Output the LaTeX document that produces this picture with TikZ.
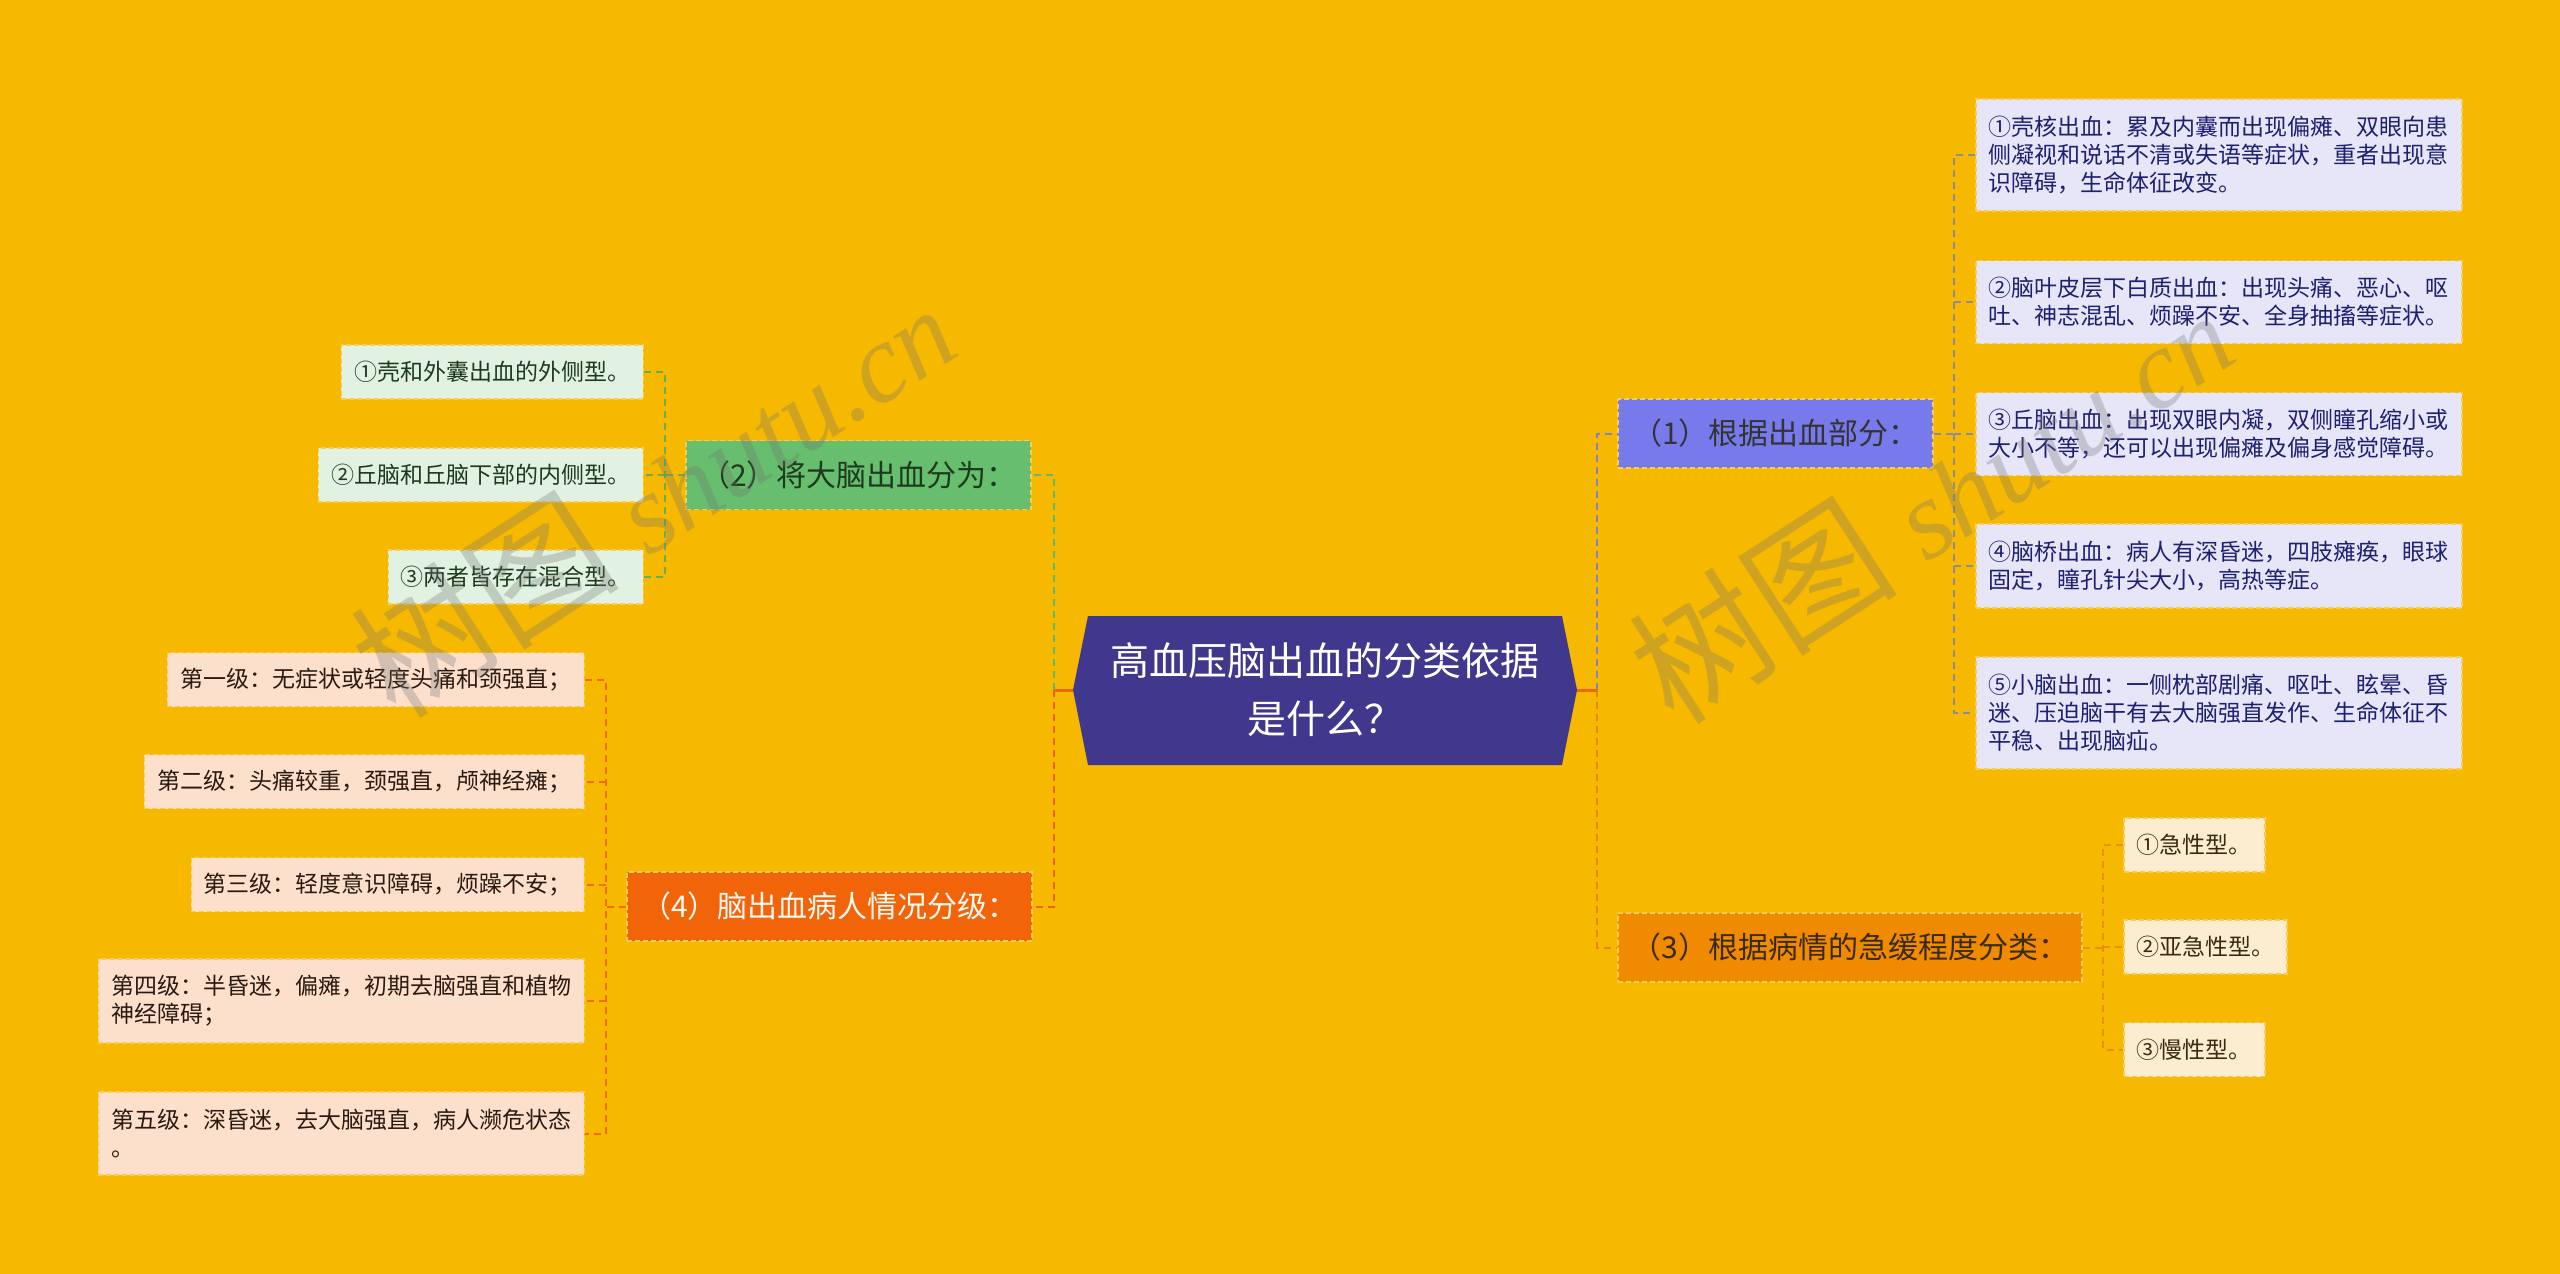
\documentclass[tikz,border=0pt]{standalone}
\usepackage{fontspec}
\setmainfont{Noto Sans CJK SC}
\newfontfamily\wmlatin{Liberation Serif}
\definecolor{bgc}{HTML}{F6B900}
\definecolor{rootc}{HTML}{40388C}
\definecolor{bordc}{HTML}{F8CC58}
\definecolor{n1c}{HTML}{787AEB}
\definecolor{n2c}{HTML}{66BE6E}
\definecolor{n3c}{HTML}{F08A00}
\definecolor{n4c}{HTML}{F2640A}
\definecolor{l1c}{HTML}{E6E6F8}
\definecolor{l2c}{HTML}{E2F2E2}
\definecolor{l3c}{HTML}{FCECD0}
\definecolor{l4c}{HTML}{FDE0CC}
\definecolor{t1c}{HTML}{1E2070}
\definecolor{t2c}{HTML}{1E3A1E}
\definecolor{t3c}{HTML}{3A2A10}
\definecolor{t4c}{HTML}{2A1A10}
\definecolor{k1c}{HTML}{8282C8}
\definecolor{g1c}{HTML}{8C8C9C}
\definecolor{k2c}{HTML}{5DBB6A}
\definecolor{g2c}{HTML}{6AAE50}
\definecolor{k3c}{HTML}{E8860A}
\definecolor{g3c}{HTML}{E8900A}
\definecolor{k4c}{HTML}{F0600A}
\definecolor{g4c}{HTML}{F06A10}
\definecolor{stubc}{HTML}{EC680A}
\begin{document}
\begin{tikzpicture}[x=1pt,y=-1pt,
  boxborder/.style={draw=bordc, line width=1.5pt, dash pattern=on 5pt off 3pt},
  mainbox/.style={rectangle, boxborder, inner sep=0pt, minimum height=69pt,
    font=\fontsize{30}{36}\selectfont},
  leaf/.style={rectangle, boxborder, inner xsep=12pt, inner ysep=0pt,
    minimum height=54pt, align=left, font=\fontsize{23}{28}\selectfont},
  conn/.style={line width=2pt, dash pattern=on 7pt off 5pt},
  stub/.style={line width=3pt, stubc},
  wm/.style={text=black!55, opacity=0.3, font=\fontsize{135}{145}\selectfont, inner sep=0pt}]
\path[use as bounding box, fill=bgc] (0,0) rectangle (2560,1274);

% root
\fill[rootc] (1073,690) -- (1088,616) -- (1562,616) -- (1577,690) -- (1562,765) -- (1088,765) -- cycle;
\node[inner sep=0pt, minimum width=504pt, minimum height=149pt, align=center, text=white,
  font=\fontsize{39}{58}\selectfont] (root) at (1325,690) {高血压脑出血的分类依据\\是什么？};

% main branches
\node[mainbox, fill=n1c, text=black!80, minimum width=315pt] (n1) at (1775.5,433.5) {（1）根据出血部分：};
\node[mainbox, fill=n2c, text=t2c, minimum width=345pt] (n2) at (858.5,475) {（2）将大脑出血分为：};
\node[mainbox, fill=n3c, text=t3c, minimum width=464pt] (n3) at (1850,947.5) {（3）根据病情的急缓程度分类：};
\node[mainbox, fill=n4c, text=white!95!orange, minimum width=405pt] (n4) at (829.5,906.5) {（4）脑出血病人情况分级：};

% leaves of (1)
\begin{scope}[every node/.style={leaf, fill=l1c, text=t1c, anchor=west, minimum width=486pt}]
\node[minimum height=112pt] (c11) at (1975,155) {①壳核出血：累及内囊而出现偏瘫、双眼向患\\侧凝视和说话不清或失语等症状，重者出现意\\识障碍，生命体征改变。};
\node[minimum height=83pt] (c12) at (1975,302) {②脑叶皮层下白质出血：出现头痛、恶心、呕\\吐、神志混乱、烦躁不安、全身抽搐等症状。};
\node[minimum height=83pt] (c13) at (1975,434) {③丘脑出血：出现双眼内凝，双侧瞳孔缩小或\\大小不等，还可以出现偏瘫及偏身感觉障碍。};
\node[minimum height=84pt] (c14) at (1975,566) {④脑桥出血：病人有深昏迷，四肢瘫痪，眼球\\固定，瞳孔针尖大小，高热等症。};
\node[minimum height=112pt] (c15) at (1975,713) {⑤小脑出血：一侧枕部剧痛、呕吐、眩晕、昏\\迷、压迫脑干有去大脑强直发作、生命体征不\\平稳、出现脑疝。};
\end{scope}

% leaves of (3)
\begin{scope}[every node/.style={leaf, fill=l3c, text=t3c, anchor=west}]
\node[minimum width=141pt] (c31) at (2123,845) {①急性型。};
\node[minimum width=163pt] (c32) at (2123,947) {②亚急性型。};
\node[minimum width=141pt] (c33) at (2123,1049.5) {③慢性型。};
\end{scope}

% leaves of (2)
\begin{scope}[every node/.style={leaf, fill=l2c, text=t2c, anchor=east}]
\node[minimum width=302pt] (c21) at (644,372) {①壳和外囊出血的外侧型。};
\node[minimum width=325pt] (c22) at (644,475) {②丘脑和丘脑下部的内侧型。};
\node[minimum width=255pt] (c23) at (644,577) {③两者皆存在混合型。};
\end{scope}

% leaves of (4)
\begin{scope}[every node/.style={leaf, fill=l4c, text=t4c, anchor=east}]
\node[minimum width=417pt] (c41) at (585,679.5) {第一级：无症状或轻度头痛和颈强直；};
\node[minimum width=440pt] (c42) at (585,781.5) {第二级：头痛较重，颈强直，颅神经瘫；};
\node[minimum width=393pt] (c43) at (585,884.5) {第三级：轻度意识障碍，烦躁不安；};
\node[minimum width=486pt, minimum height=84pt] (c44) at (585,1001) {第四级：半昏迷，偏瘫，初期去脑强直和植物\\神经障碍；};
\node[minimum width=486pt, minimum height=83pt] (c45) at (585,1133.5) {第五级：深昏迷，去大脑强直，病人濒危状态\\。};
\end{scope}

% trunk coordinates
\coordinate (tR) at (1597,0);
\coordinate (tL) at (1054,0);
\coordinate (t1) at (1954,0);
\coordinate (t3) at (2103,0);
\coordinate (t2) at (665,0);
\coordinate (t4) at (606,0);

% root connectors
\draw[conn, k1c] (root.east -| tR) |- (n1.west);
\draw[conn, k3c] (root.east -| tR) |- (n3.west);
\draw[conn, k2c] (root.west -| tL) |- (n2.east);
\draw[conn, k4c] (root.west -| tL) |- (n4.east);
\draw[stub] (root.east) -- (root.east -| tR);
\draw[stub] (root.west) -- (root.west -| tL);

% (1) children
\draw[conn, g1c] (n1.east) -- (n1.east -| t1);
\draw[conn, g1c] (c11.west) -- (c11.west -| t1) -- (c15.west -| t1) -- (c15.west);
\foreach \c in {c12,c13,c14} \draw[conn, g1c] (\c.west -| t1) -- (\c.west);

% (3) children
\draw[conn, g3c] (n3.east) -- (n3.east -| t3);
\draw[conn, g3c] (c31.west) -- (c31.west -| t3) -- (c33.west -| t3) -- (c33.west);
\draw[conn, g3c] (c32.west -| t3) -- (c32.west);

% (2) children
\draw[conn, g2c] (n2.west) -- (n2.west -| t2);
\draw[conn, g2c] (c21.east) -- (c21.east -| t2) -- (c23.east -| t2) -- (c23.east);
\draw[conn, g2c] (c22.east -| t2) -- (c22.east);

% (4) children
\draw[conn, g4c] (n4.west) -- (n4.west -| t4);
\draw[conn, g4c] (c41.east) -- (c41.east -| t4) -- (c45.east -| t4) -- (c45.east);
\foreach \c in {c42,c43,c44} \draw[conn, g4c] (\c.east -| t4) -- (\c.east);

% watermarks
\node[wm, rotate=33] (wmL) at (652,494) {树图 {\wmlatin\itshape\fontsize{112}{120}\selectfont shutu.cn}};
\node[wm, rotate=33] (wmR) at (1930,500) {树图 {\wmlatin\itshape\fontsize{112}{120}\selectfont shutu.cn}};
\end{tikzpicture}
\end{document}
